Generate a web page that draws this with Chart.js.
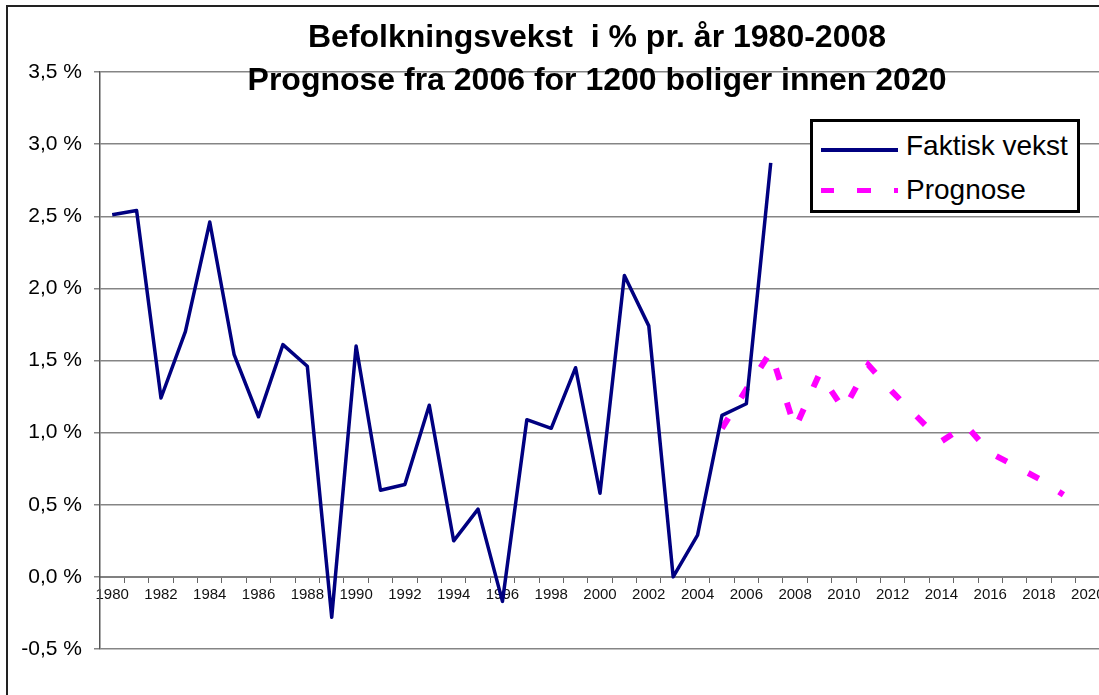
<!DOCTYPE html>
<html>
<head>
<meta charset="utf-8">
<script src="https://cdn.jsdelivr.net/npm/chart.js@4/dist/chart.umd.min.js"></script>
<style>
  html, body { margin: 0; padding: 0; background: #fff; overflow: hidden; width: 1099px; height: 695px; }
  #wrap { position: relative; width: 1099px; height: 695px; overflow: hidden; }
  #frame { position: absolute; left: 6px; top: 5px; width: 1200px; height: 800px; border: 2px solid #222; }
  canvas { position: absolute; left: 0; top: 0; }
  #title { position: absolute; left: 197px; width: 800px; top: 15px; text-align: center;
           font: bold 32px "Liberation Sans", Arial, sans-serif; line-height: 43px; color: #000; }
  #legend { position: absolute; left: 810px; top: 119px; width: 264px; height: 88px;
            border: 3px solid #000; background: #fff; font: 28px "Liberation Sans", Arial, sans-serif; color: #000; }
  .row { position: absolute; left: 0; height: 40px; }
  .row span { position: absolute; left: 93px; top: 0; line-height: 40px; white-space: nowrap; }
  .sample { position: absolute; left: 8px; width: 77px; }
</style>
</head>
<body>
<div id="wrap">
  <div id="frame"></div>
  <canvas id="chart" width="1112" height="695"></canvas>
  <div id="title">Befolkningsvekst&nbsp; i % pr. år 1980-2008<br>Prognose fra 2006 for 1200 boliger innen 2020</div>
  <div id="legend"></div>
</div>
<script>
  const years = ['1980', '1981', '1982', '1983', '1984', '1985', '1986', '1987', '1988', '1989',
    '1990', '1991', '1992', '1993', '1994', '1995', '1996', '1997', '1998', '1999',
    '2000', '2001', '2002', '2003', '2004', '2005', '2006', '2007', '2008', '2009',
    '2010', '2011', '2012', '2013', '2014', '2015', '2016', '2017', '2018', '2019', '2020'];

  const shownYears = ['1980', '1982', '1984', '1986', '1988', '1990', '1992', '1994', '1996', '1998',
    '2000', '2002', '2004', '2006', '2008', '2010', '2012', '2014', '2016', '2018', '2020'];

  // faktisk vekst 1980-2007
  const faktisk = [2.51, 2.54, 1.24, 1.70, 2.46, 1.54, 1.11, 1.61, 1.46, -0.28,
    1.60, 0.60, 0.64, 1.19, 0.25, 0.47, -0.17, 1.09, 1.03, 1.45,
    0.58, 2.09, 1.74, 0.00, 0.29, 1.12, 1.20, 2.87,
    null, null, null, null, null, null, null, null, null, null, null, null, null];

  // prognose 2005-2019
  const prognose = [null, null, null, null, null, null, null, null, null, null,
    null, null, null, null, null, null, null, null, null, null,
    null, null, null, null, null, 1.03, 1.30, 1.56, 1.03, 1.41,
    1.16, 1.47, 1.28, 1.11, 0.94, 1.05, 0.86, 0.77, 0.68, 0.57, null];

  const seriesNames = ['Faktisk vekst', 'Prognose'];
  const seriesColors = ['#000080', '#ff00ff'];

  const yMin = -0.5, yMax = 3.5, yStep = 0.5;

  const fontFam = '"Liberation Sans", Arial, sans-serif';

  const ctx = document.getElementById('chart').getContext('2d');
  new Chart(ctx, {
    type: 'line',
    data: {
      labels: years,
      datasets: [{
        label: seriesNames[0],
        data: faktisk,
        borderColor: seriesColors[0],
        borderWidth: 3.5,
        pointRadius: 0,
        borderJoinStyle: 'round',
        tension: 0
      }, {
        label: seriesNames[1],
        data: prognose,
        borderColor: seriesColors[1],
        borderWidth: 6,
        borderDash: [12, 24],
        borderCapStyle: 'butt',
        pointRadius: 0,
        tension: 0
      }]
    },
    options: {
      responsive: false,
      animation: false,
      devicePixelRatio: 1,
      layout: { padding: { top: 72, bottom: 46, left: 0, right: 12 } },
      plugins: { legend: { display: false }, title: { display: false }, tooltip: { enabled: false } },
      scales: {
        x: {
          type: 'category',
          offset: true,
          position: { y: 0 },
          grid: { drawOnChartArea: false, drawTicks: true, tickLength: 5, color: '#666', offset: true },
          border: { color: '#808080', width: 2 },
          ticks: {
            autoSkip: false,
            maxRotation: 0,
            padding: 4,
            color: '#111',
            font: { family: fontFam, size: 15 },
            callback: function (val, i) {
              const lab = this.getLabelForValue(val);
              return shownYears.includes(lab) ? lab : '';
            }
          }
        },
        y: {
          min: yMin,
          max: yMax,
          afterFit: s => { s.width = 100; },
          grid: { color: '#858585', lineWidth: 1.5, tickLength: 6 },
          border: { color: '#555', width: 1.5 },
          ticks: {
            stepSize: yStep,
            padding: 12,
            color: '#000',
            font: { family: fontFam, size: 21 },
            callback: v => v.toFixed(1).replace('.', ',') + ' %'
          }
        }
      }
    }
  });

  // legend box
  const legend = document.getElementById('legend');
  legend.innerHTML =
    '<div class="row" style="top:4px;width:100%"><div class="sample" style="top:22px;height:3.5px;background:' + seriesColors[0] + '"></div><span>' + seriesNames[0] + '</span></div>' +
    '<div class="row" style="top:48px;width:100%"><div class="sample" style="top:18px;height:5px;background:repeating-linear-gradient(to right,' + seriesColors[1] + ' 0 13px, transparent 13px 36.5px)"></div><span>' + seriesNames[1] + '</span></div>';
</script>
</body>
</html>
